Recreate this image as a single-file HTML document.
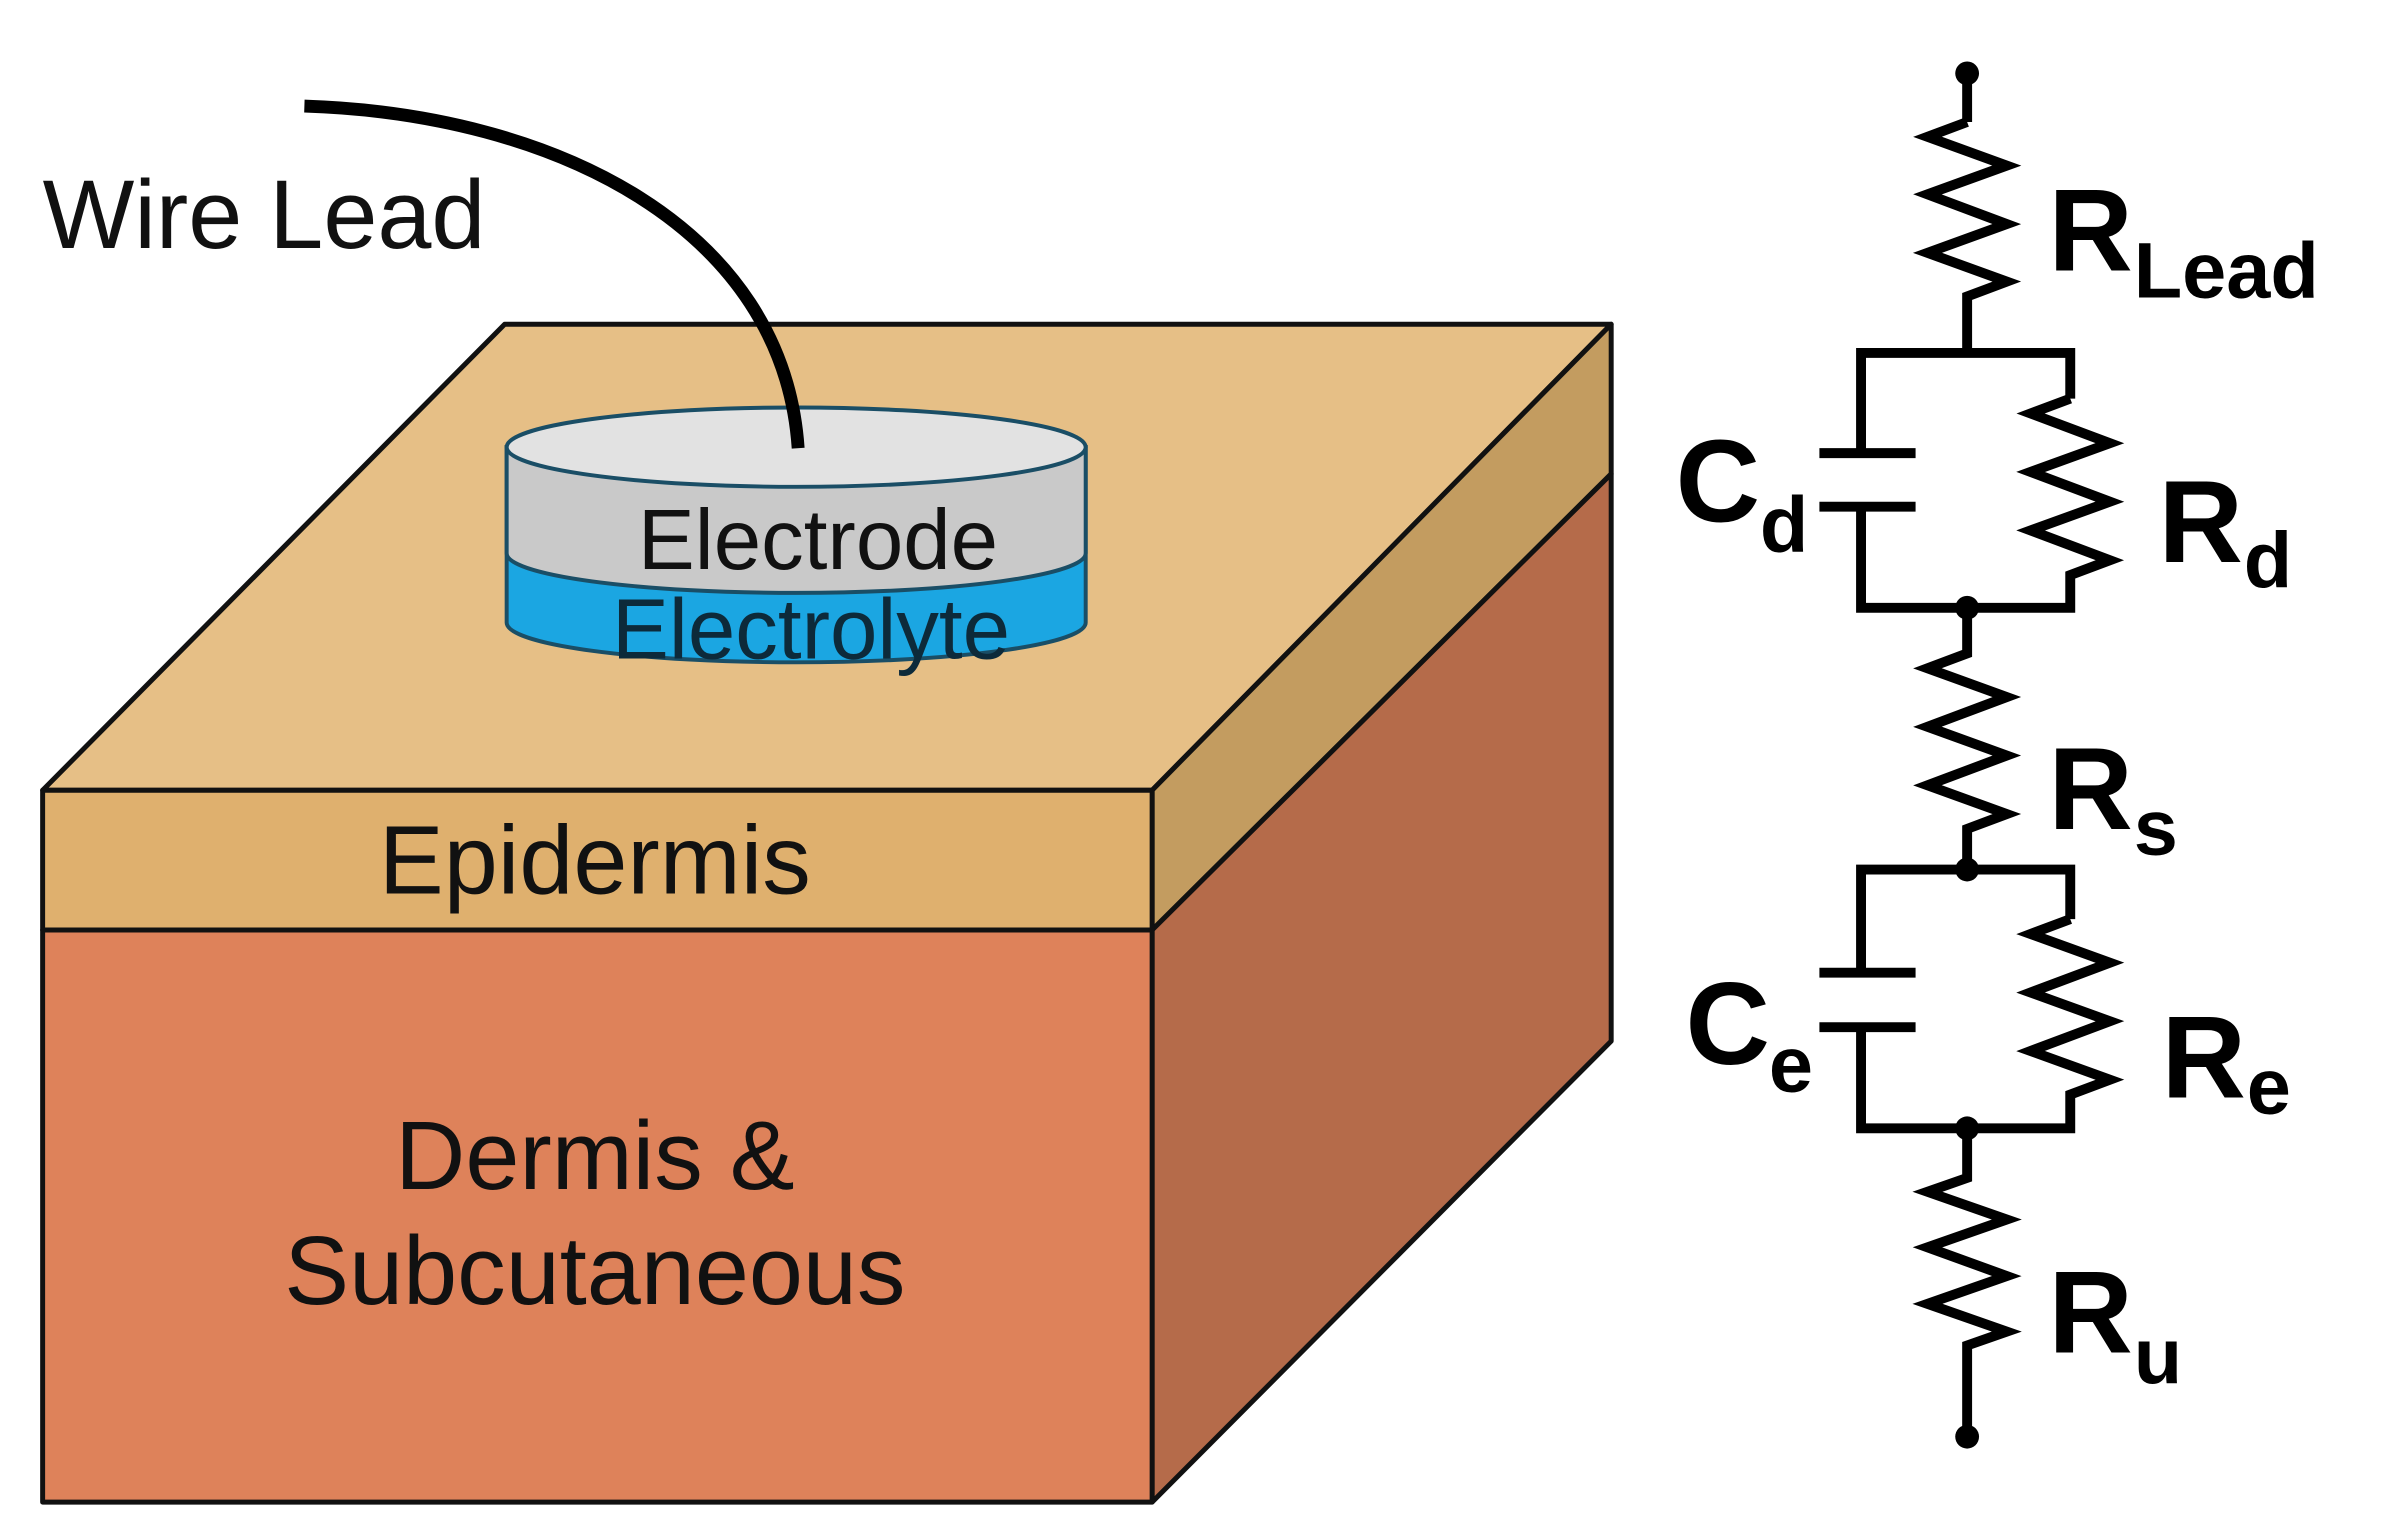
<!DOCTYPE html>
<html><head><meta charset="utf-8"><style>
html,body{margin:0;padding:0;background:#fff;}
svg{display:block;}
text{font-family:"Liberation Sans",Arial,sans-serif;}
</style></head><body>
<svg width="2383" height="1533" viewBox="0 0 2383 1533" xmlns="http://www.w3.org/2000/svg">
<g transform="scale(0.9915)">
<g stroke="#111" stroke-width="5" stroke-linejoin="round">
  <polygon points="509,327 1625,327 1162,797 43,797" fill="#e6bf86"/>
  <polygon points="1625,327 1625,478 1162,938 1162,797" fill="#c39c60"/>
  <polygon points="1625,478 1625,1050 1162,1515 1162,938" fill="#b56b4a"/>
  <rect x="43" y="797" width="1119" height="141" fill="#dfb06e"/>
  <rect x="43" y="938" width="1119" height="577" fill="#de825a"/>
</g>
<g stroke="#1a4e66" stroke-width="4">
  <path d="M511,451 L511,628 A292,40 0 0 0 1095,628 L1095,451 Z" fill="#1ba6e2"/>
  <path d="M511,451 L511,558 A292,40 0 0 0 1095,558 L1095,451 Z" fill="#c9c9c9"/>
  <ellipse cx="803" cy="451" rx="292" ry="40" fill="#e2e2e2"/>
</g>
<path d="M307,107 C560,115 790,230 805,452" fill="none" stroke="#000" stroke-width="13"/>
<g fill="#111" font-size="98">
  <text x="43" y="250">Wire Lead</text>
  <text x="600" y="901" text-anchor="middle">Epidermis</text>
  <text x="600" y="1199" text-anchor="middle">Dermis &amp;</text>
  <text x="600" y="1315" text-anchor="middle">Subcutaneous</text>
</g>
<g fill="#111" font-size="86">
  <text x="825" y="574" text-anchor="middle">Electrode</text>
  <text x="818" y="664" text-anchor="middle" fill="#0d2a3a">Electrolyte</text>
</g>
<g stroke="#000" stroke-width="10" fill="none" stroke-linejoin="miter">
  <line x1="1984" y1="74" x2="1984" y2="123"/>
  <polyline points="1984,123 1944,138 2024,167 1944,196 2024,226 1944,255 2024,284 1984,299 1984,356"/>
  <polyline points="1877,457 1877,356 2088,356 2088,402"/>
  <polyline points="2088,402 2048,417 2128,447 2048,476 2128,506 2048,535 2128,565 2088,580 2088,613 1877,613 1877,511"/>
  <line x1="1835" y1="457" x2="1932" y2="457"/>
  <line x1="1835" y1="511" x2="1932" y2="511"/>
  <polyline points="1984,613 1984,659 1944,674 2024,703 1944,733 2024,762 1944,792 2024,821 1984,836 1984,877"/>
  <polyline points="1877,981 1877,877 2088,877 2088,927"/>
  <polyline points="2088,927 2048,942 2128,971 2048,1001 2128,1030 2048,1060 2128,1089 2088,1104 2088,1138 1877,1138 1877,1036"/>
  <line x1="1835" y1="981" x2="1932" y2="981"/>
  <line x1="1835" y1="1036" x2="1932" y2="1036"/>
  <polyline points="1984,1138 1984,1188 1944,1202 2024,1230 1944,1258 2024,1287 1944,1315 2024,1343 1984,1357 1984,1449"/>
</g>
<g fill="#000">
  <circle cx="1984" cy="74" r="12"/>
  <circle cx="1984" cy="613" r="12"/>
  <circle cx="1984" cy="877" r="12"/>
  <circle cx="1984" cy="1138" r="12"/>
  <circle cx="1984" cy="1449" r="12"/>
</g>
<g fill="#000" font-weight="bold">
  <text x="2066" y="273" font-size="118">R</text><text x="2152" y="300" font-size="80">Lead</text>
  <text x="1690" y="526" font-size="118">C</text><text x="1775" y="556" font-size="80">d</text>
  <text x="2177" y="567" font-size="118">R</text><text x="2263" y="592" font-size="80">d</text>
  <text x="2066" y="836" font-size="118">R</text><text x="2152" y="862" font-size="80">s</text>
  <text x="1700" y="1073" font-size="118">C</text><text x="1784" y="1101" font-size="80">e</text>
  <text x="2180" y="1107" font-size="118">R</text><text x="2266" y="1123" font-size="80">e</text>
  <text x="2066" y="1364" font-size="118">R</text><text x="2152" y="1395" font-size="80">u</text>
</g>
</g>
</svg>
</body></html>
